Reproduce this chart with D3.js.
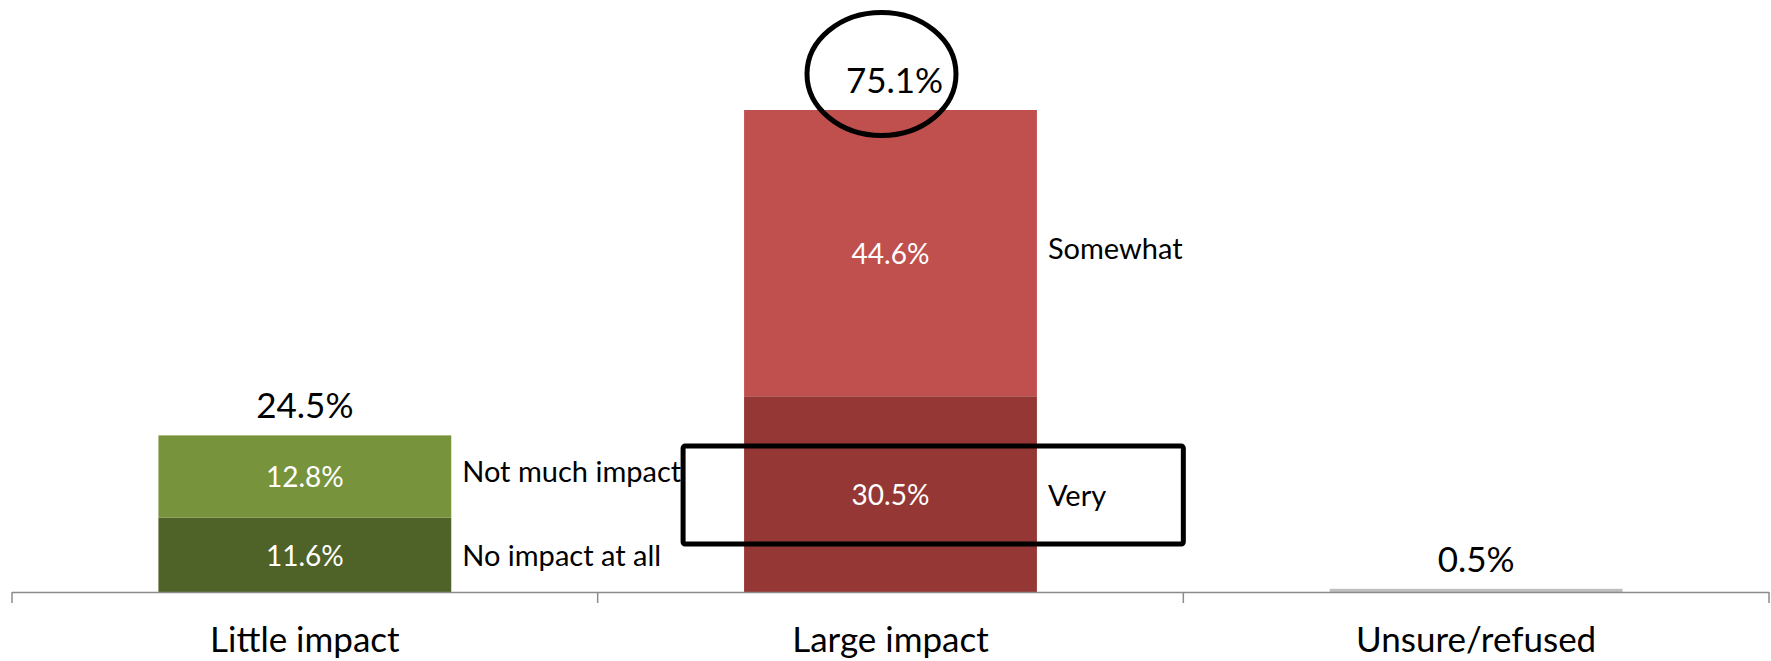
<!DOCTYPE html>
<html>
<head>
<meta charset="utf-8">
<script src="https://cdn.jsdelivr.net/npm/d3@7/dist/d3.min.js"></script>
<style>
  html, body { margin: 0; padding: 0; background: #fff; }
  svg { display: block; font-family: Lato, "Noto Sans", sans-serif; }
</style>
</head>
<body>
<svg id="chart" width="1771" height="661"></svg>
<script>
// ---- data ----
const categories = ["Little impact", "Large impact", "Unsure/refused"];
const lowerValues = [11.6, 30.5, 0.5];   // bottom segment
const upperValues = [12.8, 44.6, 0];     // top segment
const totals = [24.5, 75.1, 0.5];
const lowerNames = ["No impact at all", "Very", ""];
const upperNames = ["Not much impact", "Somewhat", ""];
const lowerColors = ["#4F6228", "#953735", "#BFBFBF"];
const upperColors = ["#77933C", "#C0504D", "#BFBFBF"];

// ---- layout ----
const svg = d3.select("#chart");
const axisY = 592;
const x = d3.scaleBand().domain(categories).range([12, 1769]).paddingInner(0.5).paddingOuter(0.25);
const y = d3.scaleLinear().domain([0, 75.1]).range([axisY, 110]);

const g = svg.append("g");

// bars
categories.forEach((c, i) => {
  const x0 = x(c), w = x.bandwidth();
  g.append("rect").attr("x", x0).attr("width", w)
    .attr("y", y(lowerValues[i])).attr("height", axisY - y(lowerValues[i]))
    .attr("fill", lowerColors[i]);
  if (upperValues[i] > 0) {
    g.append("rect").attr("x", x0).attr("width", w)
      .attr("y", y(lowerValues[i] + upperValues[i]))
      .attr("height", y(lowerValues[i]) - y(lowerValues[i] + upperValues[i]))
      .attr("fill", upperColors[i]);
  }
});

// inner labels
categories.forEach((c, i) => {
  const cx = x(c) + x.bandwidth() / 2;
  if (upperValues[i] > 0) {
    g.append("text").attr("x", cx).attr("y", y(lowerValues[i] / 2))
      .attr("text-anchor", "middle").attr("dominant-baseline", "central")
      .attr("fill", "#fff").attr("font-size", 28)
      .text(lowerValues[i].toFixed(1) + "%");
    g.append("text").attr("x", cx).attr("y", y(lowerValues[i] + upperValues[i] / 2))
      .attr("text-anchor", "middle").attr("dominant-baseline", "central")
      .attr("fill", "#fff").attr("font-size", 28)
      .text(upperValues[i].toFixed(1) + "%");
    // side labels
    const sx = x(c) + x.bandwidth() + 11;
    g.append("text").attr("x", sx).attr("y", y(lowerValues[i] / 2))
      .attr("dominant-baseline", "central").attr("fill", "#000").attr("font-size", 29)
      .text(lowerNames[i]);
    g.append("text").attr("x", sx).attr("y", y(lowerValues[i] + upperValues[i] / 2) - 6)
      .attr("dominant-baseline", "central").attr("fill", "#000").attr("font-size", 29)
      .text(upperNames[i]);
  }
  // totals
  g.append("text").attr("x", cx + (i === 1 ? 4 : 0)).attr("y", y(totals[i]) - 17)
    .attr("text-anchor", "middle").attr("fill", "#000").attr("font-size", 35)
    .text(totals[i].toFixed(1) + "%");
});

// axis
const ax = svg.append("g");
ax.append("line").attr("x1", 12).attr("x2", 1769).attr("y1", axisY + 0.5).attr("y2", axisY + 0.5)
  .attr("stroke", "#8C8C8C").attr("stroke-width", 1.5);
const step = x.step();
const bounds = [0, 1, 2, 3].map(k => 12 + k * step);
bounds.forEach(bx => {
  ax.append("line").attr("x1", bx).attr("x2", bx).attr("y1", axisY).attr("y2", axisY + 11)
    .attr("stroke", "#8C8C8C").attr("stroke-width", 1.5);
});
categories.forEach(c => {
  ax.append("text").attr("x", x(c) + x.bandwidth() / 2).attr("y", 652)
    .attr("text-anchor", "middle").attr("fill", "#000").attr("font-size", 35)
    .text(c);
});

// annotations
const largeC = x("Large impact") + x.bandwidth() / 2;
svg.append("ellipse")
  .attr("cx", largeC - 9).attr("cy", y(totals[1]) - 36)
  .attr("rx", 74.5).attr("ry", 61.5)
  .attr("fill", "none").attr("stroke", "#000").attr("stroke-width", 5);
const veryMid = y(lowerValues[1] / 2);
svg.append("rect")
  .attr("x", x("Large impact") - 61).attr("y", veryMid - 48)
  .attr("width", bounds[2] - (x("Large impact") - 61)).attr("height", 98)
  .attr("rx", 2)
  .attr("fill", "none").attr("stroke", "#000").attr("stroke-width", 5);
</script>
</body>
</html>
